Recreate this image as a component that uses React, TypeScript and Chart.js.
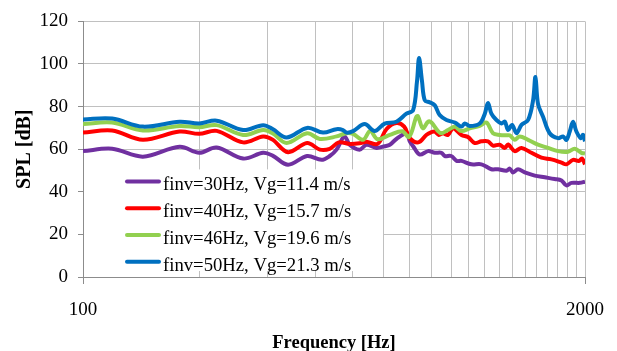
import React, { useEffect, useRef } from 'react';
import { Chart, registerables } from 'chart.js';

Chart.register(...registerables);

const seriesLabels = [
  'finv=30Hz, Vg=11.4 m/s',
  'finv=40Hz, Vg=15.7 m/s',
  'finv=46Hz, Vg=19.6 m/s',
  'finv=50Hz, Vg=21.3 m/s',
];
const seriesColors = ['#7030A0', '#FF0000', '#92D050', '#0070C0'];

const purpleFreq = [100, 119, 143, 178, 200, 222, 260, 293, 310, 340, 381, 415, 436, 454, 476, 491, 521, 543, 576, 605, 624, 649, 690, 703, 717, 746, 784, 816, 849, 866, 900, 930, 957, 1015, 1078, 1144, 1190, 1252, 1276, 1302, 1341, 1396, 1482, 1573, 1669, 1738, 1790, 1845, 1939, 2000];
const purpleSpl = [59.1, 60.2, 56.5, 61.1, 58.3, 60.8, 55.6, 58.3, 57.0, 52.7, 56.8, 55.0, 56.8, 59.8, 66.0, 62.1, 59.8, 62.1, 60.6, 61.4, 62.1, 64.8, 67.5, 63.7, 61.4, 57.5, 59.1, 58.3, 58.3, 56.8, 56.8, 54.5, 54.5, 52.9, 52.9, 50.6, 50.6, 49.9, 50.9, 49.1, 50.6, 49.1, 47.6, 46.8, 46.0, 45.3, 43.0, 44.2, 44.2, 44.8];

const redFreq = [100, 119, 143, 178, 200, 222, 260, 293, 310, 340, 381, 411, 436, 460, 491, 521, 543, 580, 612, 649, 680, 703, 740, 777, 800, 816, 836, 857, 883, 910, 957, 995, 1036, 1078, 1121, 1155, 1202, 1239, 1264, 1315, 1369, 1453, 1542, 1637, 1738, 1790, 1862, 1927, 1965, 2000];
const redSpl = [67.8, 68.8, 64.4, 68.3, 67.2, 68.6, 63.2, 66.0, 64.5, 58.6, 62.9, 59.8, 60.2, 63.2, 62.5, 62.8, 63.5, 62.5, 69.5, 72.3, 70.6, 65.2, 63.2, 66.8, 68.0, 68.3, 66.7, 67.5, 66.7, 69.8, 66.7, 65.7, 62.9, 63.7, 63.7, 61.7, 62.1, 60.6, 62.2, 59.1, 60.6, 58.3, 56.0, 55.2, 53.7, 52.9, 55.0, 54.5, 55.6, 52.9];

const greenFreq = [100, 119, 143, 178, 200, 222, 260, 293, 310, 337, 381, 411, 454, 481, 501, 532, 555, 580, 624, 672, 700, 731, 738, 760, 784, 800, 832, 849, 883, 920, 957, 1005, 1067, 1111, 1155, 1202, 1252, 1276, 1315, 1355, 1424, 1511, 1604, 1703, 1808, 1881, 1958, 2000];
const greenSpl = [71.8, 72.5, 68.8, 70.9, 70.3, 71.3, 66.7, 69.0, 67.5, 62.9, 67.5, 64.8, 66.0, 67.5, 67.2, 64.4, 68.5, 64.7, 66.7, 68.4, 65.8, 75.2, 75.5, 69.8, 72.9, 72.5, 68.5, 67.5, 69.0, 70.5, 68.5, 69.8, 71.0, 72.5, 67.5, 66.7, 66.5, 66.5, 64.4, 66.0, 64.4, 62.1, 60.6, 59.1, 58.8, 60.2, 58.3, 58.0];

const blueFreq = [100, 119, 143, 178, 200, 222, 260, 293, 310, 337, 381, 419, 454, 472, 482, 501, 537, 570, 605, 649, 689, 717, 734, 743, 756, 769, 792, 816, 840, 875, 920, 957, 976, 1005, 1067, 1100, 1121, 1144, 1179, 1215, 1239, 1264, 1294, 1329, 1369, 1424, 1467, 1488, 1511, 1557, 1620, 1703, 1755, 1790, 1826, 1862, 1900, 1950, 1977, 2000];
const blueSpl = [74.0, 74.4, 70.6, 72.9, 72.1, 73.4, 69.0, 71.3, 69.5, 65.5, 70.0, 67.8, 69.4, 69.0, 67.8, 68.5, 71.8, 68.5, 72.0, 72.9, 76.7, 78.3, 92.0, 102.8, 92.0, 82.9, 82.0, 80.6, 76.0, 73.7, 72.5, 70.6, 72.1, 70.9, 72.1, 76.7, 81.7, 76.7, 73.7, 72.1, 73.0, 69.0, 71.4, 67.5, 71.4, 73.7, 82.9, 93.9, 81.3, 75.2, 67.5, 65.2, 66.0, 64.4, 68.3, 72.9, 68.3, 65.2, 66.7, 63.7];

const xGridFreqs = [100, 200, 300, 400, 500, 600, 700, 800, 900, 1000, 1100, 1200, 1300, 1400, 1500, 1600, 1700, 1800, 1900, 2000];
const xTickLabels = [100, 2000];
const yTickValues = [0, 20, 40, 60, 80, 100, 120];

const xTitle = 'Frequency [Hz]';
const yTitle = 'SPL [dB]';

const freqs = [purpleFreq, redFreq, greenFreq, blueFreq];
const spls = [purpleSpl, redSpl, greenSpl, blueSpl];

const SERIF = '"Liberation Serif", "Times New Roman", serif';

const insideLegend = {
  id: 'insideLegend',
  afterDatasetsDraw(chart: any) {
    const { ctx, chartArea } = chart;
    ctx.save();
    const boxLeft = chartArea.left + 1;
    const boxTop = chartArea.top + 148;
    const boxRight = 383;
    const boxBottom = chartArea.bottom - 6;
    ctx.fillStyle = '#ffffff';
    ctx.fillRect(boxLeft, boxTop, boxRight - boxLeft, boxBottom - boxTop);
    const startY = chartArea.top + 160;
    const step = 26.8;
    ctx.font = `18.7px ${SERIF}`;
    ctx.textAlign = 'left';
    ctx.textBaseline = 'alphabetic';
    seriesLabels.forEach((label, i) => {
      const y = startY + i * step;
      ctx.strokeStyle = seriesColors[i];
      ctx.lineWidth = 4;
      ctx.lineCap = 'round';
      ctx.beginPath();
      ctx.moveTo(127, y);
      ctx.lineTo(159, y);
      ctx.stroke();
      ctx.fillStyle = '#000000';
      ctx.fillText(label, 163, y + 9);
    });
    ctx.restore();
  },
};

export default function App() {
  const canvasRef = useRef<HTMLCanvasElement | null>(null);

  useEffect(() => {
    const canvas = canvasRef.current;
    if (!canvas) return;
    const datasets = seriesLabels.map((label, i) => ({
      label,
      data: freqs[i].map((f, j) => ({ x: f, y: spls[i][j] })),
      borderColor: seriesColors[i],
      backgroundColor: seriesColors[i],
      borderWidth: 4,
      pointRadius: 0,
      tension: 0.35,
      fill: false,
      order: 3 - i,
    }));

    const chart = new Chart(canvas, {
      type: 'line',
      data: { datasets },
      plugins: [insideLegend],
      options: {
        animation: false,
        responsive: false,
        maintainAspectRatio: false,
        layout: { padding: { left: 0, right: 32, top: 16, bottom: 0 } },
        plugins: {
          legend: { display: false },
          tooltip: { enabled: false },
        },
        scales: {
          x: {
            type: 'logarithmic',
            min: 100,
            max: 2000,
            afterBuildTicks: (scale: any) => {
              scale.ticks = xGridFreqs.map((v) => ({ value: v }));
            },
            afterFit: (scale: any) => {
              scale.height = 74;
            },
            ticks: {
              autoSkip: false,
              maxRotation: 0,
              minRotation: 0,
              padding: 12,
              color: '#000000',
              font: { family: SERIF, size: 19, lineHeight: 1.5 },
              callback: (v: any) => (xTickLabels.includes(Number(v)) ? String(v) : ''),
            },
            grid: {
              color: '#c0c0c0',
              lineWidth: 1,
              tickLength: 7,
              tickColor: (ctx: any) =>
                ctx.tick && xTickLabels.includes(ctx.tick.value) ? '#8c8c8c' : 'rgba(0,0,0,0)',
            },
            border: { color: '#8c8c8c', width: 1 },
            title: {
              display: true,
              text: xTitle,
              color: '#000000',
              font: { family: SERIF, size: 18.5, weight: 'bold', lineHeight: 1 },
              padding: { top: 0, bottom: -1 },
            },
          },
          y: {
            type: 'linear',
            min: 0,
            max: 120,
            afterBuildTicks: (scale: any) => {
              scale.ticks = yTickValues.map((v) => ({ value: v }));
            },
            afterFit: (scale: any) => {
              scale.width = 83;
            },
            ticks: {
              padding: 10,
              color: '#000000',
              font: { family: SERIF, size: 19 },
            },
            grid: {
              color: '#c0c0c0',
              lineWidth: 1,
              tickLength: 5,
              tickColor: '#8c8c8c',
            },
            border: { color: '#8c8c8c', width: 1 },
            title: {
              display: true,
              text: yTitle,
              color: '#000000',
              font: { family: SERIF, size: 20, weight: 'bold', lineHeight: 1 },
              padding: { top: 15, bottom: 0 },
            },
          },
        },
      },
    });
    return () => chart.destroy();
  }, []);

  return (
    <div style={{ position: 'fixed', left: 0, top: 0, width: 617, height: 351, background: '#ffffff' }}>
      <canvas ref={canvasRef} width={617} height={351} style={{ width: 617, height: 351, display: 'block' }} />
    </div>
  );
}
